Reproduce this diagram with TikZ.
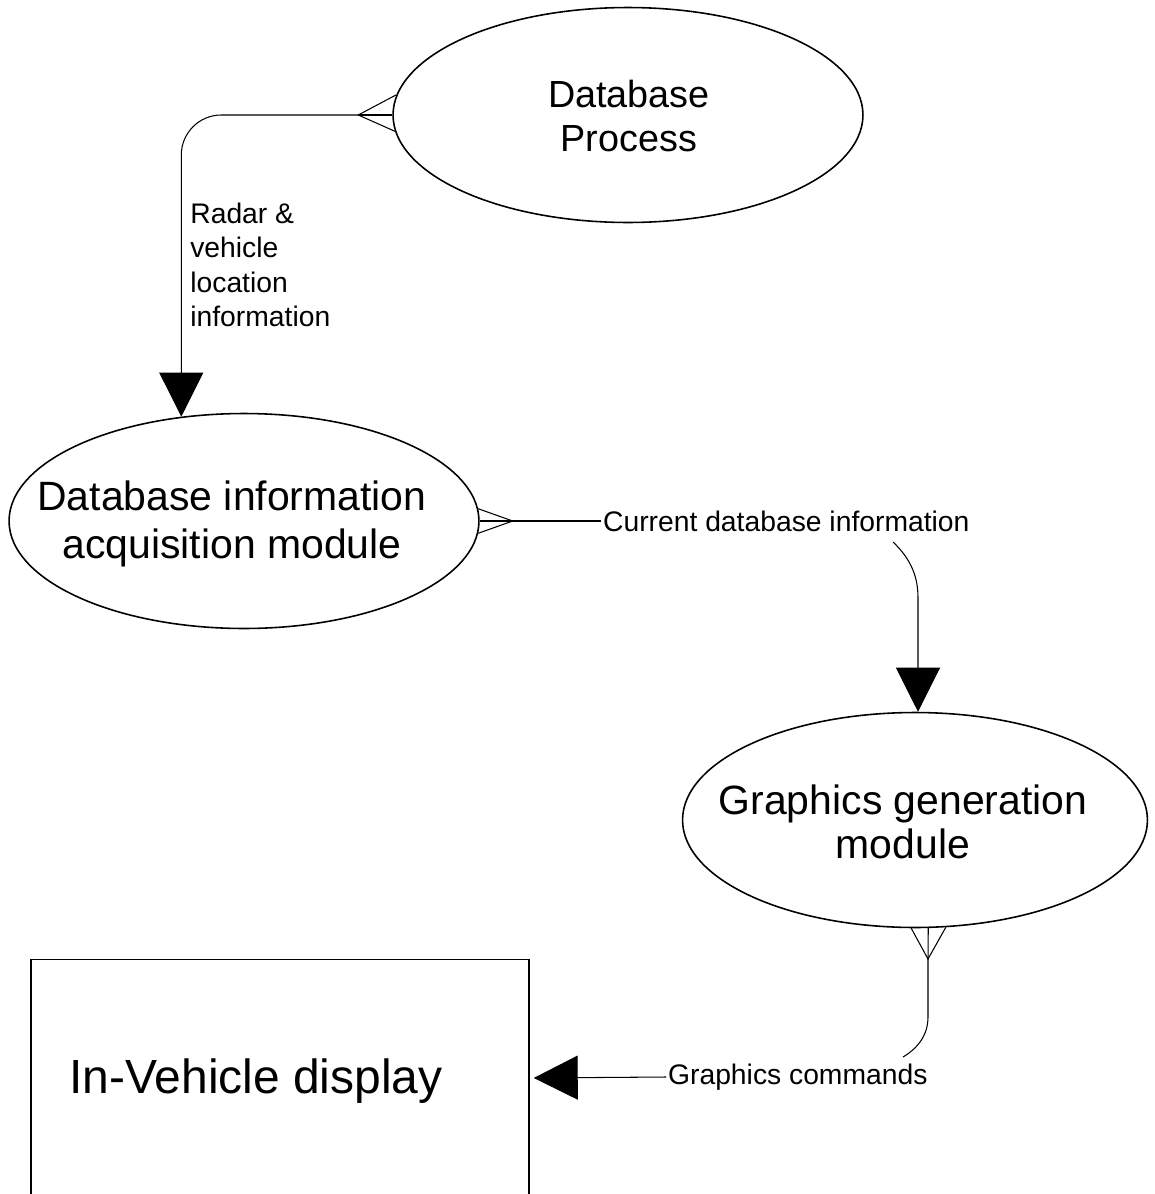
\documentclass[tikz,border=0pt]{standalone}
\usepackage{fontspec}
\setmainfont{Liberation Sans}
\usetikzlibrary{shapes.geometric,arrows.meta,calc}
\begin{document}
\begin{tikzpicture}[x=0.02cm,y=-0.02cm,
  bubble/.style={ellipse,draw,line width=0.9pt,inner sep=0pt,
    minimum width=9.4cm,minimum height=4.3cm},
  bubbletext/.style={align=center,inner sep=0pt},
  conn/.style={line width=0.6pt},
  bigarrow/.style={-{Triangle[length=0.88cm,width=0.88cm]}},
  lbl/.style={font=\fontsize{16.1}{19.4}\selectfont,inner sep=1pt}]
\useasboundingbox[fill=white] (0,0) rectangle (1154,1194);
% nodes
\node[bubble] (dp) at (628,115) {};
\node[bubbletext,font=\fontsize{21.5}{25.6}\selectfont] (dpt) at (629,116) {Database\\Process};
\node[bubble] (dia) at (244,521) {};
\node[bubbletext,font=\fontsize{23.3}{27.3}\selectfont] (diat) at (232,524) {Database information\\acquisition module};
\node[bubble,minimum width=9.3cm] (gg) at (915,820) {};
\node[bubbletext,font=\fontsize{23.3}{25}\selectfont] (ggt) at (903,822) {Graphics generation\\module};
\node[draw,line width=0.9pt,minimum width=9.96cm,minimum height=4.74cm,inner sep=0pt] (disp) at (280,1078) {};
\node[inner sep=0pt,font=\fontsize{27.3}{32}\selectfont] (dispt) at (256,1081) {In-Vehicle display};
\node[lbl,anchor=north west,align=left,inner sep=0pt] (radar) at (190,203)
  {Radar \&\\vehicle\\location\\information};
\node[lbl,anchor=west] (cur) at (601,521) {Current database information};
\node[lbl,anchor=west] (gc) at (666,1077) {Graphics commands};
% connector 1: database process -> acquisition module
\coordinate (f1) at ($(dp.west)+(-34,0)$);
\draw[conn] (dp.175.6) -- (f1) -- (dp.184.4);
\draw[conn] (dp.west) -- (f1);
\draw[conn,bigarrow,rounded corners=0.8cm] (f1) -| (dia.121.3);
% connector 2: acquisition module -> graphics generation
\coordinate (f2) at ($(dia.east)+(33,0)$);
\draw[conn] (dia.3.9) -- (f2) -- (dia.-3.9);
\draw[conn] (dia.east) -- (f2) -- (cur.west);
\coordinate (c1) at (893,542);
\coordinate (c2) at (918,598);
\draw[conn,bigarrow] (c1) .. controls (912,560) and (918,578) .. (c2) -- (gg.north -| c2);
% connector 3: graphics generation -> display
\coordinate (f3) at (928,959);
\draw[conn] (gg.268.4) -- (f3) -- (gg.-74.7);
\draw[conn] (gg.-83.1) -- (f3);
\coordinate (c3) at (928,1017);
\coordinate (c4) at (903,1057);
\draw[conn] (f3) -- (c3) .. controls (928,1035) and (918,1048) .. (c4);
\draw[conn,bigarrow,shorten >=0.08cm] (gc.west) -- (disp.east);
\end{tikzpicture}
\end{document}
